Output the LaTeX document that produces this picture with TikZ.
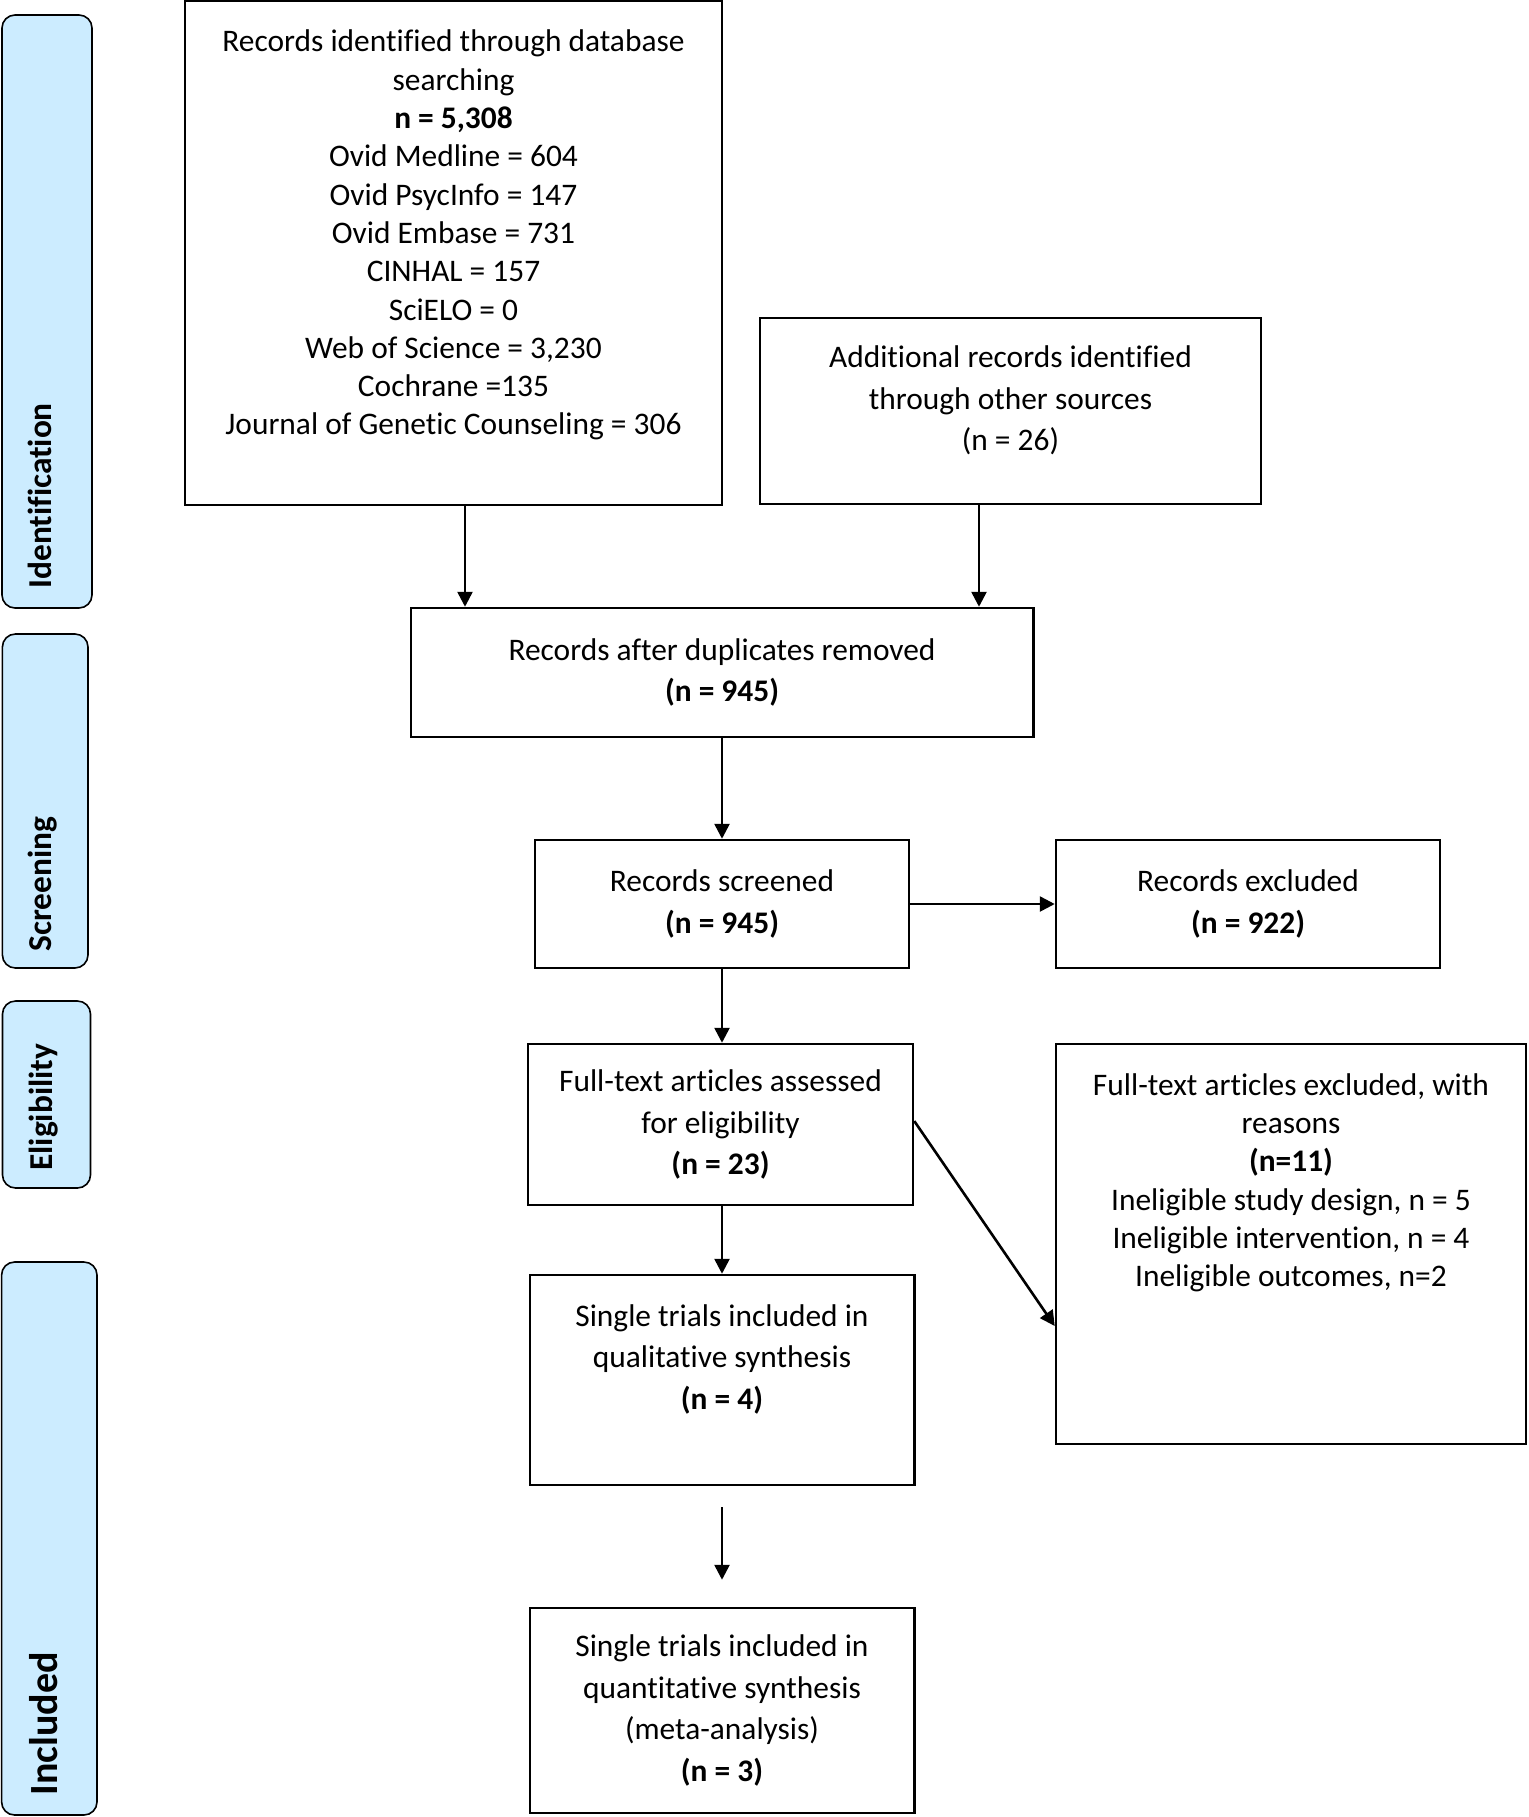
\documentclass[tikz,border=0pt]{standalone}
\usepackage{fontspec}
\setmainfont{Carlito}[Ligatures=NoCommon]
\usetikzlibrary{positioning,arrows.meta}

\definecolor{stagefill}{RGB}{204,236,255}

\tikzset{
  box/.style={draw,line width=1.25pt,inner sep=0pt,align=center,
    font=\fontsize{15.7}{20.75}\selectfont},
  txt/.style={inner sep=0pt,align=center,font=\fontsize{15.7}{20.75}\selectfont},
  tight/.style={font=\fontsize{15.7}{19.15}\selectfont},
  stage/.style={draw,line width=0.8pt,fill=stagefill,rounded corners=6.5pt},
  stagelabel/.style={rotate=90,anchor=base west,inner sep=0pt,
    font=\fontsize{16.7}{20}\selectfont\bfseries},
  arr/.style={-{Triangle[length=7.5pt,width=7.5pt]},line width=1.3pt},
}

\begin{document}
\begin{tikzpicture}[x=0.5pt,y=-0.5pt]
  \useasboundingbox (0,0) rectangle (1528,1817);

  % stage bars on the left
  \node[stage,minimum width=45pt,minimum height=296.5pt] (idbar) at (47,311.5) {};
  \node[stage,minimum width=42.8pt,minimum height=167pt] (scbar) at (45.2,801) {};
  \node[stage,minimum width=44pt,minimum height=93.5pt] (elbar) at (46.5,1094.5) {};
  \node[stage,minimum width=47.7pt,minimum height=276.5pt] (inbar) at (49.3,1538.5) {};

  \node[stagelabel] (idlab) at (51,589) {Identification};
  \node[stagelabel] (sclab) at (51,952) {Screening};
  \node[stagelabel] (ellab) at (53,1171) {Eligibility};
  \node[stagelabel,font=\fontsize{20}{24}\selectfont\bfseries] (inlab) at (57,1796) {Included};

  % identification
  \node[box,minimum width=268.5pt,minimum height=252pt] (db) at (453.5,253) {};
  \node[txt,tight,below=15pt of db.north] (dbtext) {Records identified through database\\searching\\
    \textbf{n = 5,308}\\Ovid Medline = 604\\Ovid PsycInfo = 147\\Ovid Embase = 731\\
    CINHAL = 157\\SciELO = 0\\Web of Science = 3,230\\Cochrane =135\\
    Journal of Genetic Counseling = 306};

  \node[box,minimum width=250.5pt,minimum height=93pt] (other) at (1010.5,411) {};
  \node[txt,below=14.3pt of other.north] (othertext) {Additional records identified\\
    through other sources\\(n = 26)};

  % screening
  \node[box,minimum width=311.25pt,minimum height=64.5pt] (dup) at (722,672.5)
    {Records after duplicates removed\\\textbf{(n = 945)}};
  \node[box,minimum width=187pt,minimum height=64pt] (screened) at (722,904)
    {Records screened\\\textbf{(n = 945)}};
  \node[box,minimum width=192pt,minimum height=64pt] (excl) at (1248,904)
    {Records excluded\\\textbf{(n = 922)}};

  % eligibility
  \node[box,minimum width=192.5pt,minimum height=80.5pt] (full) at (720.5,1124.5)
    {Full-text articles assessed\\for eligibility\\\textbf{(n = 23)}};
  \node[box,minimum width=235pt,minimum height=200pt] (reasons) at (1291,1244) {};
  \node[txt,tight,below=15.2pt of reasons.north] (reasonstext) {Full-text articles excluded, with\\
    reasons\\\textbf{(n=11)}\\Ineligible study design, n = 5\\
    Ineligible intervention, n = 4\\Ineligible outcomes, n=2};

  % included
  \node[box,minimum width=192.25pt,minimum height=105pt] (qual) at (722,1380) {};
  \node[txt,below=15.2pt of qual.north] (qualtext) {Single trials included in\\
    qualitative synthesis\\\textbf{(n = 4)}};
  \node[box,minimum width=192.25pt,minimum height=102.5pt] (quant) at (722,1710.5)
    {Single trials included in\\quantitative synthesis\\(meta-analysis)\\\textbf{(n = 3)}};

  % arrows
  \draw[arr] ([xshift=5.75pt]db.south) -- ([xshift=5.75pt]db.south |- dup.north);
  \draw[arr] ([xshift=-15.75pt]other.south) -- ([xshift=-15.75pt]other.south |- dup.north);
  \draw[arr] (dup.south) -- (screened.north);
  \draw[arr] (screened.east) -- (excl.west);
  \draw[arr] (screened.south) -- (screened.south |- full.north);
  \draw[arr] ([yshift=1.75pt]full.east) -- ([yshift=-41pt]reasons.west);
  \draw[arr] (full.south -| qual.north) -- (qual.north);
  \draw[arr,shorten <=10.5pt,shorten >=13.5pt] (qual.south) -- (quant.north);
\end{tikzpicture}
\end{document}
